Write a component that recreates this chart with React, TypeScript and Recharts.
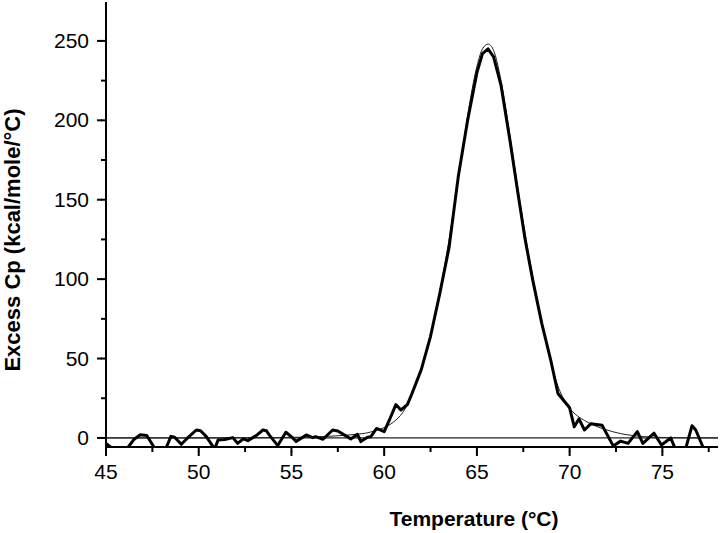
import { ComposedChart, Line, XAxis, YAxis, ReferenceLine } from 'recharts';

// measured DSC trace (thick line)
const dataTemps = [
  45, 45.5, 46.0, 46.2, 46.5, 46.85, 47.2, 47.6, 48.0, 48.25, 48.5, 48.7, 49.06, 49.4, 49.87, 50.1,
  50.4, 50.86, 51.04, 51.4, 51.84, 52.1, 52.4, 52.65, 53.1, 53.46, 53.65, 53.8, 54.26, 54.7, 55.07,
  55.25, 55.8, 56.15, 56.3, 56.7, 57.22, 57.5, 58.2, 58.56, 58.74, 59.1, 59.28, 59.59, 60.0, 60.27,
  60.63, 60.9, 61.25, 61.5, 62, 62.5, 63, 63.5, 64, 64.5, 65, 65.3, 65.6, 65.9, 66.3, 66.8, 67.2,
  67.6, 68, 68.5, 69, 69.37, 70.0, 70.25, 70.5, 70.8, 71.15, 71.75, 72.35, 72.75, 73.15, 73.65,
  73.95, 74.55, 74.95, 75.45, 75.7, 76.25, 76.6, 76.8, 77.2, 77.5,
];
const dataCp = [
  -3.5, -8, -8, -5.7, -1, 2, 1.5, -6, -8, -6, 1, 0.5, -4, 0, 5, 4.5,
  1, -7, -1.3, -1, 0.2, -3.4, -0.6, -1.7, 1.5, 5, 4.5, 1.9, -4.8, 3.6, 0,
  -2.3, 1.9, 0.2, 0.8, -0.8, 5, 4.4, -0.6, 2.3, -2.3, 0.4, 0.8, 6, 4, 11,
  21, 17.6, 21, 28, 43, 64, 91, 120, 165, 200, 230, 242, 245, 240, 222, 186, 155,
  125, 100, 72, 48, 28, 19, 7, 12, 5, 9, 8, -5, -2, -3.4, 4,
  -3.4, 3, -4.4, 0, -7, -7, 7.7, 5, -6, -8,
];

// fitted curve (thin line)
const fitTemps = [
  45, 50, 54, 56, 57, 58, 58.5, 59, 59.5, 60, 60.5, 61, 61.5, 62, 62.5, 63, 63.5, 64, 64.5, 65,
  65.3, 65.6, 65.9, 66.3, 66.8, 67.3, 67.8, 68.3, 68.8, 69.3, 69.8, 70.3, 70.8, 71.3, 71.8, 72.3,
  72.8, 73.5, 74.5, 76, 78,
];
const fitCp = [
  0, 0, 0.2, 0.6, 1, 1.8, 2.3, 3, 4.5, 6.5, 10, 16, 27, 43, 64, 92, 125, 163, 203, 234,
  245, 248, 244, 225, 189, 150, 115, 84, 57, 35, 22, 15, 11, 8, 5.8, 4,
  2.6, 1.4, 0.5, 0.1, 0,
];

const xTicks = [45, 47.5, 50, 52.5, 55, 57.5, 60, 62.5, 65, 67.5, 70, 72.5, 75, 77.5];
const yTicks = [0, 25, 50, 75, 100, 125, 150, 175, 200, 225, 250];

const measured = dataTemps.map((t, i) => ({ t, cp: dataCp[i] }));
const fitted = fitTemps.map((t, i) => ({ t, cp: fitCp[i] }));

const FONT = '"Liberation Sans", Arial, sans-serif';
const MINOR = 5; // minor tick length
const MAJOR = 9; // major tick length
const GAP = 9;

// Recharts draws the short (minor) tick for every tick; majors get an extension + label
function XTick({ x, y, payload }: any) {
  const axisY = y - MINOR - GAP;
  const major = payload.value % 5 === 0;
  if (!major) return <g />;
  return (
    <g>
      <line x1={x} x2={x} y1={axisY + MINOR - 1} y2={axisY + MAJOR} stroke="#000" strokeWidth={2} />
      <text x={x} y={axisY + 32} textAnchor="middle" fontSize={21} fontFamily={FONT} fill="#000">
        {payload.value}
      </text>
    </g>
  );
}

function YTick({ x, y, payload }: any) {
  const axisX = x + MINOR + 12;
  const major = payload.value % 50 === 0;
  if (!major) return <g />;
  return (
    <g>
      <line x1={axisX - MAJOR} x2={axisX - MINOR + 1} y1={y} y2={y} stroke="#000" strokeWidth={2} />
      <text x={axisX - 17} y={y + 7} textAnchor="end" fontSize={21} fontFamily={FONT} fill="#000">
        {payload.value}
      </text>
    </g>
  );
}

export default function App() {
  return (
    <div style={{ position: 'absolute', left: 0, top: 0, width: 720, height: 533, background: '#fff' }}>
      <ComposedChart width={720} height={533} margin={{ top: 2, right: 2, bottom: 0, left: 0 }}>
        <XAxis
          type="number"
          dataKey="t"
          domain={[45, 78]}
          ticks={xTicks}
          allowDataOverflow
          interval={0}
          height={86}
          tickLine={{ stroke: '#000', strokeWidth: 2 }}
          tickSize={MINOR}
          tickMargin={GAP}
          tick={<XTick />}
          axisLine={{ stroke: '#000', strokeWidth: 2 }}
          label={{
            content: () => (
              <text x={474} y={526} textAnchor="middle" fontSize={21} fontWeight="bold" fontFamily={FONT} fill="#000">
                Temperature (°C)
              </text>
            ),
          }}
        />
        <YAxis
          type="number"
          domain={[-5.7, 274.5]}
          ticks={yTicks}
          allowDataOverflow
          interval={0}
          width={106}
          tickLine={{ stroke: '#000', strokeWidth: 2 }}
          tickSize={MINOR}
          tickMargin={12}
          tick={<YTick />}
          axisLine={{ stroke: '#000', strokeWidth: 2 }}
          label={{
            content: () => (
              <text
                transform="translate(20, 240) rotate(-90)"
                textAnchor="middle"
                fontSize={22}
                fontWeight="bold"
                fontFamily={FONT}
                fill="#000"
              >
                Excess Cp (kcal/mole/°C)
              </text>
            ),
          }}
        />
        <ReferenceLine y={0} stroke="#222" strokeWidth={1.2} />
        <Line
          data={fitted}
          dataKey="cp"
          type="monotone"
          stroke="#222"
          strokeWidth={1}
          dot={false}
          isAnimationActive={false}
        />
        <Line
          data={measured}
          dataKey="cp"
          type="linear"
          stroke="#000"
          strokeWidth={3}
          strokeLinejoin="round"
          dot={false}
          isAnimationActive={false}
        />
      </ComposedChart>
    </div>
  );
}
